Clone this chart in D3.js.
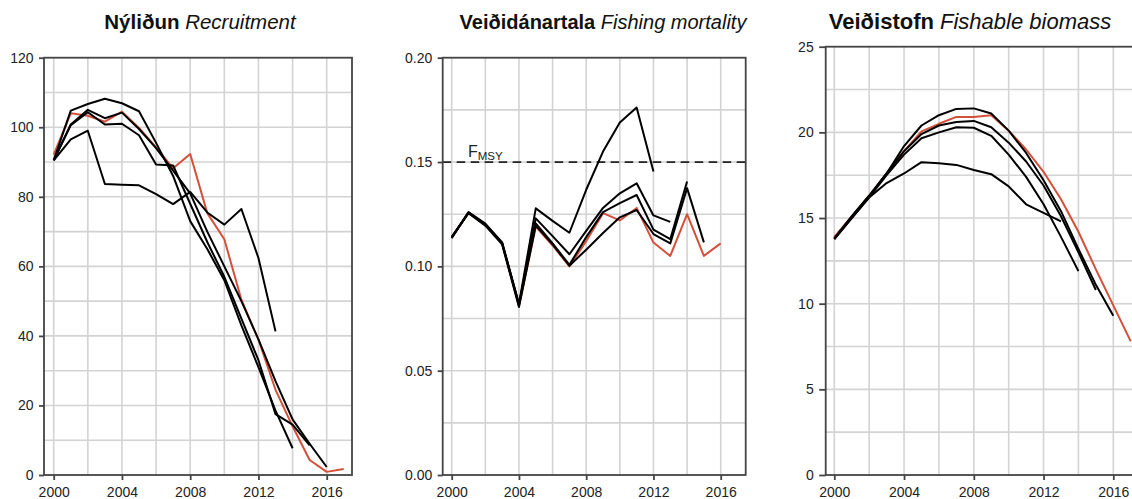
<!DOCTYPE html>
<html><head><meta charset="utf-8">
<script src="https://cdn.jsdelivr.net/npm/d3@7/dist/d3.min.js"></script>
<style>
body{margin:0;background:#fff;}
svg{display:block;font-family:"Liberation Sans",Arial,Helvetica,sans-serif;}
</style></head><body>
<svg id="chart" width="1132" height="499"></svg>
<script>
// ---- data ----
const years = [2000,2001,2002,2003,2004,2005,2006,2007,2008,2009,2010,2011,2012,2013,2014,2015,2016,2017];
const xTickYears = [2000,2004,2008,2012,2016];
const xGridYears = [2000,2002,2004,2006,2008,2010,2012,2014,2016];

// Recruitment (Nýliðun)
const recLatest  = [92.1,104,103.3,101.6,104.5,99.8,94.2,88.2,92.3,75.3,67.8,50.4,38.9,24.5,14,4.3,0.9,1.7];
const recRetro16 = [90.5,100.8,105,102.6,104.2,99.5,94,87.5,81,70,60,50,39,27,16,9,2.3];
const recRetro15 = [90.5,100.6,104.3,100.8,101,97.7,89.3,89,78,67,57,45,33,17.5,14.5,8.5];
const recRetro14 = [90.5,104.8,106.7,108.2,106.9,104.6,95.5,86,73,65,56,43,31,18.5,7.7];
const recRetro13 = [90.5,96.5,99,83.7,83.5,83.3,80.8,77.9,81.4,75.5,72,76.5,62.4,41.3];
const recTicks = [0,20,40,60,80,100,120];
const recGrid  = [10,20,30,40,50,60,70,80,90,100,110];

// Fishing mortality (Veiðidánartala)
const fLatest  = [0.114,0.1255,0.120,0.111,0.081,0.119,0.110,0.100,0.112,0.1255,0.122,0.128,0.1114,0.105,0.125,0.105,0.111];
const fRetro15 = [0.114,0.1255,0.1195,0.1105,0.0805,0.1195,0.1105,0.1003,0.108,0.116,0.1235,0.127,0.1155,0.111,0.1375,0.1115];
const fRetro14 = [0.114,0.1258,0.120,0.111,0.082,0.1206,0.111,0.1007,0.114,0.126,0.1303,0.1342,0.1176,0.113,0.1407];
const fRetro13 = [0.1135,0.1258,0.1202,0.1112,0.0815,0.123,0.1145,0.1058,0.117,0.128,0.135,0.1398,0.1244,0.1213];
const fRetro12 = [0.1138,0.126,0.1205,0.1115,0.082,0.1278,0.1218,0.1161,0.1367,0.155,0.1689,0.1761,0.1455];
const fTicks = [0,0.05,0.10,0.15,0.20];
const fGrid  = [0.025,0.05,0.075,0.1,0.125,0.15,0.175];
const fMsy = 0.15;

// Fishable biomass (Veiðistofn)
const bLatest  = [13.9,15.1,16.3,17.6,18.9,20.06,20.5,20.9,20.9,21.0,20.1,19.0,17.7,16.1,14.2,12.0,9.9,7.8];
const bRetro16 = [13.8,15.1,16.3,17.6,19.2,20.4,21.0,21.37,21.4,21.1,20.1,18.8,17.2,15.4,13.2,11.1,9.3];
const bRetro15 = [13.8,15.1,16.3,17.6,18.9,19.9,20.4,20.6,20.67,20.3,19.4,18.3,16.9,15.1,13.0,10.8];
const bRetro14 = [13.8,15.0,16.2,17.5,18.7,19.66,20.0,20.3,20.27,19.8,18.7,17.4,15.8,13.9,11.9];
const bRetro13 = [13.75,15.0,16.2,17.04,17.6,18.26,18.2,18.1,17.8,17.56,16.85,15.8,15.3,14.8];
const bTicks = [0,5,10,15,20,25];
const bGrid  = [2.5,5,7.5,10,12.5,15,17.5,20,22.5];

// ---- layout ----
const RED = "#d4503b";
const panels = [
  {bold:"Nýliðun", ital:"Recruitment", titleX:200, titleY:29, titleSize:20.5,
   left:44, right:352, top:57.7, bottom:475, x0:53.7, x16:326.7,
   yDomain:[0,120], ticks:recTicks, grid:recGrid, fmt:d3.format("d"),
   latest:recLatest, retros:[recRetro16,recRetro15,recRetro14,recRetro13], tickLen:5, pad:5.5},
  {bold:"Veiðidánartala", ital:"Fishing mortality", titleX:603, titleY:29, titleSize:20,
   left:442.7, right:745.7, top:57.7, bottom:475, x0:451.7, x16:720.7,
   yDomain:[0,0.2], ticks:fTicks, grid:fGrid, fmt:d3.format(".2f"),
   latest:fLatest, retros:[fRetro15,fRetro14,fRetro13,fRetro12], ref:fMsy, tickLen:5, pad:5.5},
  {bold:"Veiðistofn", ital:"Fishable biomass", titleX:970, titleY:29, titleSize:22,
   left:825.7, right:1139.5, top:46.7, bottom:475, x0:834.3, x16:1113.3,
   yDomain:[0,25], ticks:bTicks, grid:bGrid, fmt:d3.format("d"),
   latest:bLatest, retros:[bRetro16,bRetro15,bRetro14,bRetro13], tickLen:6.5, pad:5.5}
];

const svg = d3.select("#chart");

panels.forEach(p => {
  const x = d3.scaleLinear().domain([2000,2016]).range([p.x0,p.x16]);
  const y = d3.scaleLinear().domain(p.yDomain).range([p.bottom,p.top]);
  const g = svg.append("g");

  // grid
  g.selectAll(".hg").data(p.grid).join("line")
    .attr("x1",p.left).attr("x2",p.right)
    .attr("y1",d=>y(d)).attr("y2",d=>y(d))
    .attr("stroke","#d3d3d3").attr("stroke-width",1.6);
  g.selectAll(".vg").data(xGridYears).join("line")
    .attr("x1",d=>x(d)).attr("x2",d=>x(d))
    .attr("y1",p.top).attr("y2",p.bottom)
    .attr("stroke","#d3d3d3").attr("stroke-width",1.6);

  // reference line
  if (p.ref !== undefined) {
    g.append("line").attr("x1",p.left).attr("x2",p.right)
      .attr("y1",y(p.ref)).attr("y2",y(p.ref))
      .attr("stroke","#222").attr("stroke-width",1.8).attr("stroke-dasharray","8.5,5.5");
    const t = g.append("text").attr("x",468).attr("y",157).attr("font-size",16).attr("fill","#222");
    t.append("tspan").text("F");
    t.append("tspan").attr("font-size",11.5).attr("dy",3).text("MSY");
  }

  const line = d3.line().x((d,i)=>x(years[i])).y(d=>y(d));
  g.append("path").datum(p.latest).attr("d",line)
    .attr("fill","none").attr("stroke",RED).attr("stroke-width",2).attr("stroke-linejoin","round");
  p.retros.forEach(s => {
    g.append("path").datum(s).attr("d",line)
      .attr("fill","none").attr("stroke","#000").attr("stroke-width",2).attr("stroke-linejoin","round");
  });

  // box
  g.append("rect").attr("x",p.left).attr("y",p.top)
    .attr("width",p.right-p.left).attr("height",p.bottom-p.top)
    .attr("fill","none").attr("stroke","#444").attr("stroke-width",1.8);

  // axes
  const ya = d3.axisLeft(y).tickValues(p.ticks).tickFormat(p.fmt).tickSize(p.tickLen).tickPadding(p.pad);
  const yg = svg.append("g").attr("transform",`translate(${p.left},0)`).call(ya);
  const xa = d3.axisBottom(x).tickValues(xTickYears).tickFormat(d3.format("d")).tickSize(5).tickPadding(7.5);
  const xg = svg.append("g").attr("transform",`translate(0,${p.bottom})`).call(xa);
  [yg,xg].forEach(a => {
    a.select(".domain").remove();
    a.selectAll("line").attr("stroke","#444").attr("stroke-width",1.8);
    a.selectAll("text").attr("fill","#222").attr("font-size",14)
      .attr("font-family",'"Liberation Sans",Arial,sans-serif');
  });

  // title
  const tt = svg.append("text").attr("x",p.titleX).attr("y",p.titleY)
    .attr("text-anchor","middle").attr("font-size",p.titleSize).attr("fill","#111");
  tt.append("tspan").attr("font-weight","bold").text(p.bold);
  tt.append("tspan").attr("font-style","italic").text(" " + p.ital);
});
</script>
</body></html>
